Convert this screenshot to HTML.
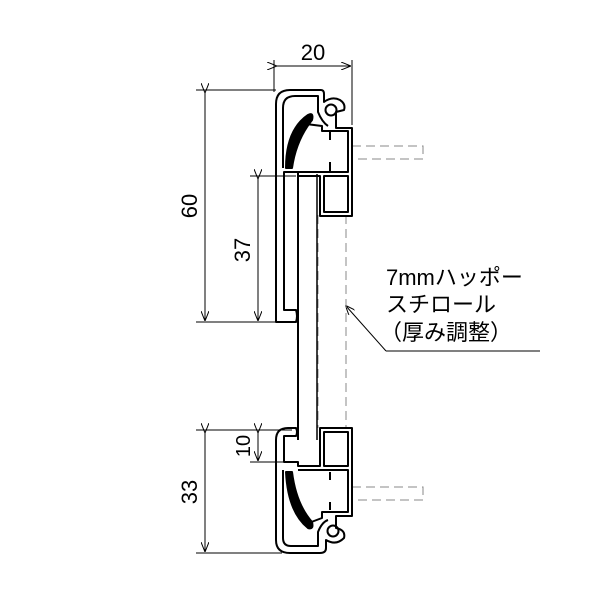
<!DOCTYPE html>
<html><head><meta charset="utf-8"><style>
html,body{margin:0;padding:0;background:#fff;}
svg{display:block;}
text{font-family:"Liberation Sans","Noto Sans CJK JP",sans-serif;fill:#000;}
</style></head><body>
<svg width="600" height="600" viewBox="0 0 600 600" xmlns="http://www.w3.org/2000/svg">
<defs>
<marker id="a" markerWidth="10" markerHeight="8" refX="9" refY="4" orient="auto" markerUnits="userSpaceOnUse">
<path d="M0,0 L10,4 L0,8" fill="none" stroke="#000" stroke-width="1"/></marker>
</defs>
<g stroke="#000" stroke-width="1" fill="none">
<!-- dim 20 -->
<line x1="274" y1="60" x2="274" y2="92"/><line x1="352" y1="60" x2="352" y2="125"/>
<line x1="276" y1="66" x2="350" y2="66" marker-start="url(#a)" marker-end="url(#a)"/>
<!-- dim 60 -->
<line x1="196" y1="90" x2="276" y2="90"/><line x1="196" y1="322" x2="276" y2="322"/>
<line x1="205" y1="92" x2="205" y2="320" marker-start="url(#a)" marker-end="url(#a)"/>
<!-- dim 37 -->
<line x1="250" y1="176" x2="296" y2="176"/>
<line x1="258" y1="178" x2="258" y2="320" marker-start="url(#a)" marker-end="url(#a)"/>
<!-- dim 10 & 33 -->
<line x1="196" y1="430" x2="292" y2="430"/><line x1="250" y1="462" x2="292" y2="462"/>
<line x1="196" y1="553" x2="282" y2="553"/>
<line x1="258" y1="432" x2="258" y2="460" marker-start="url(#a)" marker-end="url(#a)"/>
<line x1="205" y1="432" x2="205" y2="551" marker-start="url(#a)" marker-end="url(#a)"/>
<!-- leader -->
<polyline points="386,351 540,351"/>
<line x1="386" y1="351" x2="346" y2="306" marker-end="url(#a)"/>
<!-- dashed -->
<g stroke="#888" stroke-dasharray="9,5">
<rect x="352" y="146" width="71" height="13"/>
<rect x="352" y="487" width="71" height="13"/>
<line x1="346" y1="215" x2="346" y2="428"/>
<line x1="318" y1="215" x2="318" y2="428"/>
</g>
<!-- board -->
<line x1="298" y1="174" x2="298" y2="440" stroke-width="2"/>
<line x1="317" y1="174" x2="317" y2="440" stroke-width="1.5"/>
</g>
<!-- top profile -->
<g stroke="#000" stroke-width="2" fill="none" stroke-linejoin="round">
<path d="M276,322 L276,104 Q276,90 290,90 L321,90 Q324,90 324,94 L324,102 Q332,96 340,100 Q346,104 344,110 L336,112 L336,128 L352,128 L352,216 L320,216 L320,176 L298,176 L298,172 L284,172 L284,310 L296,310 Q298,316 296,322 Z"/>
<path d="M283,168 L283,108 Q283,96 295,96 L318,96 L318,112 Q322,122 328,126"/>
<circle cx="331" cy="110" r="5.5"/>
<path d="M298,172 L348,172 L348,131 L322,131 L322,126 L306,124"/>
<rect x="324" y="176" width="24" height="36"/>
<line x1="330" y1="132" x2="330" y2="140"/><line x1="330" y1="162" x2="330" y2="171"/>
<path d="M286,168 Q286,130 308,115 Q314,112 312,120 Q296,140 292,168 Z" fill="#000"/>
</g>
<!-- bottom profile -->
<g stroke="#000" stroke-width="2" fill="none" stroke-linejoin="round">
<path d="M276,440 Q276,428 288,428 L296,428 Q298,432 296,436 L284,436 L284,462 L298,462 L298,466 L320,466 L320,428 L352,428 L352,516 L336,516 L336,528 Q346,530 344,538 Q336,546 326,540 L326,548 Q326,553 320,553 L290,553 Q276,553 276,540 Z"/>
<path d="M283,470 L283,538 Q283,546 291,546 L318,546 L318,532 Q322,522 328,520"/>
<circle cx="333" cy="531" r="5.5"/>
<path d="M298,470 L348,470 L348,512 L322,512 L322,518 L306,524"/>
<rect x="324" y="432" width="24" height="34"/>
<line x1="330" y1="472" x2="330" y2="480"/><line x1="330" y1="502" x2="330" y2="510"/>
<path d="M286,472 Q288,512 308,528 Q314,530 312,522 Q296,504 292,472 Z" fill="#000"/>
</g>
<text x="313" y="60" font-size="22" text-anchor="middle">20</text>
<text transform="translate(197,206) rotate(-90)" font-size="22" text-anchor="middle">60</text>
<text transform="translate(250,250) rotate(-90)" font-size="22" text-anchor="middle">37</text>
<text transform="translate(250,446) rotate(-90)" font-size="20" text-anchor="middle">10</text>
<text transform="translate(197,492) rotate(-90)" font-size="22" text-anchor="middle">33</text>
<text x="386" y="285" font-size="22">7mmハッポー</text>
<text x="386" y="312" font-size="22">スチロール</text>
<text x="380" y="340" font-size="22">（厚み調整）</text>
</svg>
</body></html>
